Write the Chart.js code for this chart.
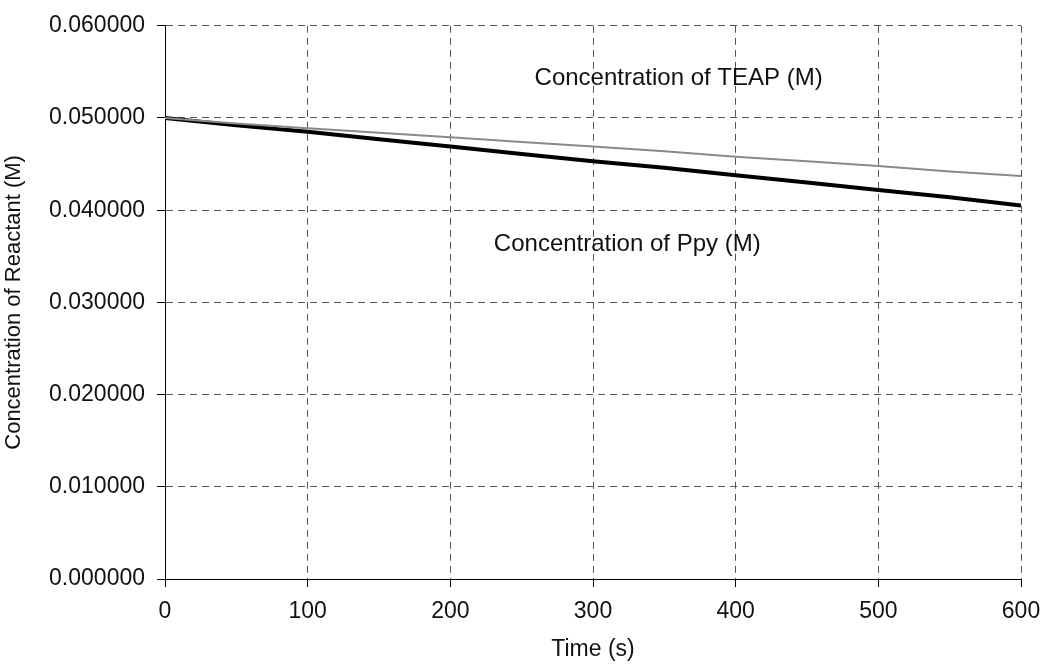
<!DOCTYPE html>
<html>
<head>
<meta charset="utf-8">
<title>Concentration of Reactant</title>
<script src="https://cdn.jsdelivr.net/npm/chart.js@4/dist/chart.umd.min.js"></script>
<style>
  html, body { margin: 0; padding: 0; background: #fff; }
  #wrap { width: 1045px; height: 672px; }
</style>
</head>
<body>
<div id="wrap"><canvas id="chart" width="1045" height="672"></canvas></div>
<script>
// time in seconds
const times = [0, 50, 100, 150, 200, 250, 300, 350, 400, 450, 500, 550, 600]
// concentrations (M)
const teap = [0.0500, 0.0494, 0.0489, 0.0484, 0.0479, 0.0474, 0.0469, 0.0464, 0.0458, 0.0453, 0.0448, 0.0442, 0.0437]
const ppy = [0.0500, 0.0492, 0.0485, 0.0477, 0.0469, 0.0461, 0.0453, 0.0446, 0.0438, 0.0430, 0.0422, 0.0414, 0.0405]

const seriesLabels = ['Concentration of TEAP (M)', 'Concentration of Ppy (M)']
// where the in-plot labels sit, in data units
const labelSpots = [
    { text: seriesLabels[0], x: 360, y: 0.0543 },
    { text: seriesLabels[1], x: 324, y: 0.0363 }
]

const font = '"Liberation Sans", Arial, sans-serif'

const toPoints = (ys) => times.map((t, i) => ({ x: t, y: ys[i] }))

const inPlotLabels = {
    id: 'inPlotLabels',
    afterDatasetsDraw(chart) {
        const { ctx, scales } = chart
        ctx.save()
        ctx.font = '24px ' + font
        ctx.fillStyle = '#111'
        ctx.textAlign = 'center'
        ctx.textBaseline = 'middle'
        labelSpots.forEach(l => {
            ctx.fillText(l.text, scales.x.getPixelForValue(l.x), scales.y.getPixelForValue(l.y))
        })
        ctx.restore()
    }
}

const gridOpts = {
    color: '#555',
    lineWidth: 1,
    tickLength: 8,
    tickColor: '#000',
    tickBorderDash: []
}
// in v4 border.dash is what dashes the grid lines; the axis line stays solid
const borderOpts = { display: true, color: '#000', width: 1, dash: [7, 5] }

new Chart(document.getElementById('chart'), {
    type: 'line',
    data: {
        datasets: [
            {
                label: seriesLabels[0],
                data: toPoints(teap),
                borderColor: '#8a8a8a',
                borderWidth: 2,
                pointRadius: 0,
                tension: 0
            },
            {
                label: seriesLabels[1],
                data: toPoints(ppy),
                borderColor: '#000',
                borderWidth: 4,
                pointRadius: 0,
                tension: 0
            }
        ]
    },
    options: {
        responsive: false,
        animation: false,
        layout: { padding: { top: 25, right: 24, left: 0, bottom: 0 } },
        plugins: { legend: { display: false }, tooltip: { enabled: false } },
        scales: {
            x: {
                type: 'linear',
                min: 0,
                max: 600,
                afterFit(axis) {
                    axis.height = 93
                    axis.paddingLeft = 0
                    axis.paddingRight = 0
                },
                ticks: {
                    stepSize: 100,
                    padding: 11,
                    color: '#111',
                    font: { family: font, size: 23 },
                    maxRotation: 0
                },
                grid: gridOpts,
                border: borderOpts,
                title: {
                    display: true,
                    text: 'Time (s)',
                    color: '#111',
                    font: { family: font, size: 23 },
                    padding: { top: 0, bottom: 9 }
                }
            },
            y: {
                min: 0,
                max: 0.06,
                afterFit(axis) { axis.width = 165 },
                ticks: {
                    stepSize: 0.01,
                    padding: 12,
                    color: '#111',
                    font: { family: font, size: 23 },
                    callback: (v) => v.toFixed(6)
                },
                grid: gridOpts,
                border: borderOpts,
                title: {
                    display: true,
                    text: 'Concentration of Reactant (M)',
                    color: '#111',
                    font: { family: font, size: 22 },
                    padding: { top: 1, bottom: 0 }
                }
            }
        }
    },
    plugins: [inPlotLabels]
})
</script>
</body>
</html>
